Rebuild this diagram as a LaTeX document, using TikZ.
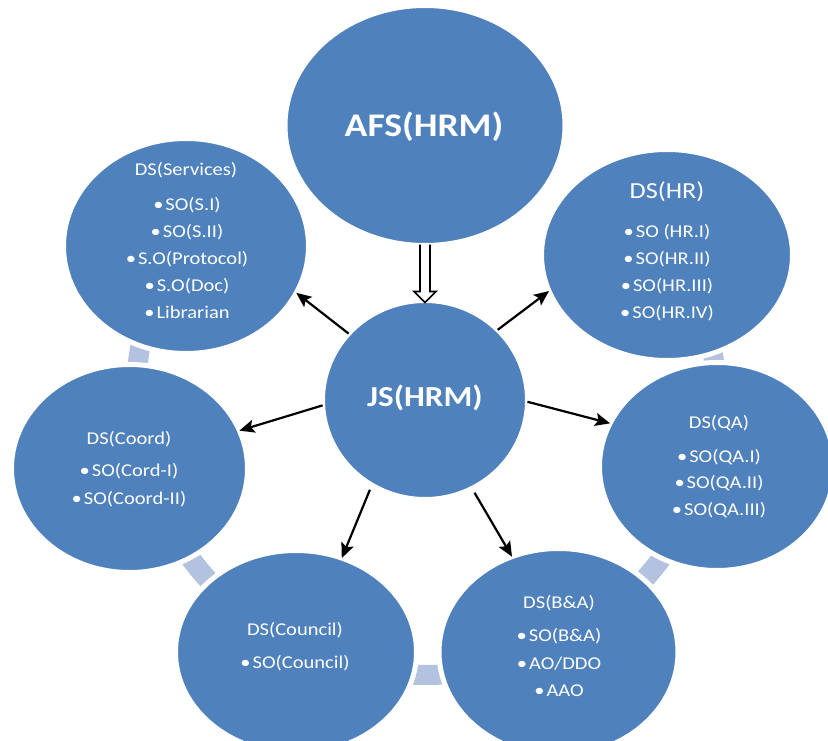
\documentclass[tikz,border=0pt]{standalone}
\usepackage{fontspec}
\setmainfont{Carlito}[FakeStretch=1.14]
\usetikzlibrary{shapes.geometric,arrows.meta,calc}
\definecolor{bblue}{HTML}{4F81BD}
\definecolor{ringblue}{HTML}{B3C2DE}
\begin{document}
\begin{tikzpicture}[x=1pt,y=-1pt,
  bubble/.style={ellipse, fill=bblue, draw=white, line width=5pt, inner sep=0pt, outer sep=0pt},
  ttl/.style={text=white, font=\fontsize{18}{22}\selectfont, inner sep=0pt},
  items/.style={text=white, font=\fontsize{18}{27}\selectfont, align=center, inner sep=0pt},
  big/.style={text=white, inner sep=0pt},
  conn/.style={line width=2.2pt, -{Stealth[length=15pt,width=13pt,inset=3pt]}},
  hollow/.style={line width=1.6pt, fill=white, line join=miter}
]
\useasboundingbox (0,0) rectangle (828,741);
\fill[white] (0,0) rectangle (828,741);

% ring segments
\begin{scope}
  \clip (0,300) rectangle (828,741);
  \draw[ringblue, line width=20pt] (426,395) ellipse [x radius=290pt, y radius=280pt];
\end{scope}

% bubbles
\node[bubble, minimum width=280pt, minimum height=240pt] (afs) at (425,125.5) {};
\node[bubble, minimum width=245pt, minimum height=215pt] (serv) at (186,246) {};
\node[bubble, minimum width=251pt, minimum height=211pt] (hr) at (667,255) {};
\node[bubble, minimum width=205pt, minimum height=199pt] (js) at (425,400) {};
\node[bubble, minimum width=236pt, minimum height=208pt] (coord) at (129.5,468.5) {};
\node[bubble, minimum width=235pt, minimum height=208pt] (qa) at (717,466.5) {};
\node[bubble, minimum width=241pt, minimum height=203pt] (coun) at (296,652) {};
\node[bubble, minimum width=239pt, minimum height=207pt] (ba) at (558.5,652) {};

% texts
\node[big, font=\bfseries\fontsize{33}{40}\selectfont] (afsT) at (424,127) {AFS(HRM)};
\node[big, font=\bfseries\fontsize{29}{35}\selectfont] (jsT) at (425,398) {JS(HRM)};

\node[ttl] (servT) at (186,170) {DS(Services)};
\node[items] (servL) at (187,257.5) {•\hspace{2pt}SO(S.I)\\•\hspace{2pt}SO(S.II)\\•\hspace{2pt}S.O(Protocol)\\•\hspace{2pt}S.O(Doc)\\•\hspace{2pt}Librarian};

\node[ttl, font=\fontsize{23}{28}\selectfont] (hrT) at (667,192) {DS(HR)};
\node[items] (hrL) at (667,272.5) {•\hspace{2pt}SO (HR.I)\\•\hspace{2pt}SO(HR.II)\\•\hspace{2pt}SO(HR.III)\\•\hspace{2pt}SO(HR.IV)};

\node[ttl] (coordT) at (129,439) {DS(Coord)};
\node[items, font=\fontsize{18}{28}\selectfont] (coordL) at (129,485) {•\hspace{2pt}SO(Cord-I)\\•\hspace{2pt}SO(Coord-II)};

\node[ttl] (qaT) at (719,423) {DS(QA)};
\node[items, font=\fontsize{18}{26.5}\selectfont] (qaL) at (719,483.5) {•\hspace{2pt}SO(QA.I)\\•\hspace{2pt}SO(QA.II)\\•\hspace{2pt}SO(QA.III)};

\node[ttl] (counT) at (295,630) {DS(Council)};
\node[items] (counL) at (295,663) {•\hspace{2pt}SO(Council)};

\node[ttl] (baT) at (559,603) {DS(B\&A)};
\node[items, font=\fontsize{18}{27.5}\selectfont] (baL) at (559,662.5) {•\hspace{2pt}SO(B\&A)\\•\hspace{2pt}AO/DDO\\•\hspace{2pt}AAO};

% connectors
\draw[conn] (js.139.7) -- (serv.-23.9);
\draw[conn] (js.44.2) -- (hr.-163.2);
\draw[conn] (js.183.2) -- (coord.19.9);
\draw[conn] (js.-1.1) -- (qa.158.8);
\draw[conn, shorten <=5pt] (js.-122.3) -- (coun.64.4);
\draw[conn, shorten <=5pt] (js.-62.2) -- (ba.116.3);

% hollow arrow
\draw[hollow] ($(afs.south)+(-5,-1)$) -- ($(afs.south)+(-5,46)$) -- ($(afs.south)+(-11,46)$)
  -- ($(js.north)+(0,2)$) -- ($(afs.south)+(11,46)$) -- ($(afs.south)+(5,46)$) -- ($(afs.south)+(5,-1)$);
\end{tikzpicture}
\end{document}
